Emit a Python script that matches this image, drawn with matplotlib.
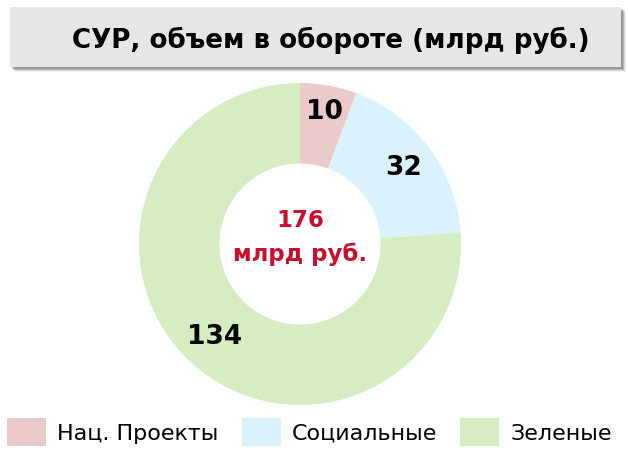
import matplotlib.pyplot as plt
from matplotlib.patches import Rectangle, Patch

# ==========================================================
# DATA
# ==========================================================
categories = ["Нац. Проекты", "Социальные", "Зеленые"]
values = [10, 32, 134]
colors = ["#EBCACC", "#D9F2FC", "#D6ECC2"]
title = "СУР, объем в обороте (млрд руб.)"
center_label = "176\nмлрд руб."

W, H = 628, 462
fig = plt.figure(figsize=(W / 100, H / 100), dpi=100, facecolor="white")

# title box with a soft shadow
for i, a in enumerate([0.06, 0.10, 0.14, 0.18]):
    off = 5 - i
    fig.patches.append(Rectangle(((10 + off) / W, 1 - (67 + off) / H), 611 / W, 60 / H,
                                 transform=fig.transFigure, facecolor="black",
                                 alpha=a, edgecolor="none", zorder=0))
fig.patches.append(Rectangle((10 / W, 1 - 67 / H), 611 / W, 60 / H,
                             transform=fig.transFigure, facecolor="#E6E6E6",
                             edgecolor="none", zorder=1))
fig.text(331 / W, 1 - 40 / H, title, ha="center", va="center",
         fontsize=18.8, fontweight="bold", family="DejaVu Sans", zorder=2)

# donut
cx, cy, r = 300, 244, 161
ax = fig.add_axes([(cx - r) / W, (H - cy - r) / H, 2 * r / W, 2 * r / H])
ax.pie(values, colors=colors, startangle=90, counterclock=False,
       wedgeprops=dict(width=0.5, edgecolor="none"))
ax.set_xlim(-1, 1)
ax.set_ylim(-1, 1)
ax.set_aspect("auto")
ax.axis("off")

label_pos = [(0.15, 0.82), (0.646, 0.47), (-0.53, -0.58)]
for (x, y), v, c in zip(label_pos, values, colors):
    ax.text(x, y, str(v), ha="center", va="center", fontsize=19,
            fontweight="bold", family="DejaVu Sans",
            bbox=dict(facecolor=c, edgecolor="none", pad=1) if v == values[0] else None)

ax.text(0, 0.04, center_label, ha="center", va="center", fontsize=16.5,
        fontweight="bold", color="#C8102E", linespacing=1.55, family="DejaVu Sans")

# legend
handles = [Patch(facecolor=c, edgecolor="none") for c in colors]
fig.legend(handles, categories, loc="lower center", bbox_to_anchor=(0.4928, 0.0),
           ncol=3, frameon=False, handlelength=1.76, handleheight=1.56,
           handletextpad=0.5, columnspacing=1.04, borderaxespad=0.31,
           prop={"family": "DejaVu Sans", "size": 16})

fig.savefig("out.png", dpi=100, facecolor="white")
